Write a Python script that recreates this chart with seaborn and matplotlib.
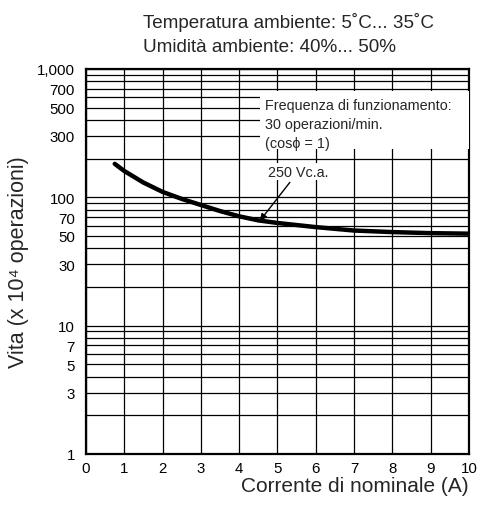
import numpy as np
import pandas as pd
import matplotlib
matplotlib.use("Agg")
import matplotlib.pyplot as plt
import seaborn as sns
from matplotlib.patches import Rectangle
from matplotlib.ticker import FixedLocator, FixedFormatter, LogLocator, NullFormatter

# ─────────────────────────────────────────────
# Data
# ─────────────────────────────────────────────
current_a = [0.75, 1.0, 1.5, 2.0, 2.5, 3.0, 3.5, 4.0, 4.5, 5.0, 6.0, 7.0, 8.0, 9.0, 10.0]
life_1e4 = [182, 160, 130, 110, 97, 87, 78, 71, 66, 63, 58.5, 55, 53.5, 52.5, 52]

y_ticks = [1, 3, 5, 7, 10, 30, 50, 70, 100, 300, 500, 700, 1000]
y_labels = ["1", "3", "5", "7", "10", "30", "50", "70", "100", "300", "500", "700", "1,000"]
x_ticks = list(range(0, 11))

title_lines = ["Temperatura ambiente: 5˚C... 35˚C", "Umidità ambiente: 40%... 50%"]
note_lines = "Frequenza di funzionamento:\n30 operazioni/min.\n(cosϕ = 1)"
curve_label = "250 Vc.a."

df = pd.DataFrame({"corrente": current_a, "vita": life_1e4})

# ─────────────────────────────────────────────
# Plot
# ─────────────────────────────────────────────
sns.set_theme(style="white")
plt.rcParams["font.family"] = ["Liberation Sans", "DejaVu Sans"]

fig = plt.figure(figsize=(4.78, 5.10), dpi=100)
ax = fig.add_axes([0.180, 0.108, 0.801, 0.755])

sns.lineplot(data=df, x="corrente", y="vita", color="black", linewidth=3.2, ax=ax, zorder=4)

ax.set_yscale("log")
ax.set_xlim(0, 10)
ax.set_ylim(1, 1000)

ax.yaxis.set_major_locator(FixedLocator(y_ticks))
ax.yaxis.set_major_formatter(FixedFormatter(y_labels))
ax.yaxis.set_minor_locator(LogLocator(base=10, subs=np.arange(1, 10)))
ax.yaxis.set_minor_formatter(NullFormatter())
ax.set_xticks(x_ticks)

ax.grid(True, which="both", axis="y", color="black", linewidth=0.9)
ax.grid(True, which="major", axis="x", color="black", linewidth=0.9)
ax.tick_params(axis="y", which="both", length=0, labelsize=10.8, colors="black", pad=8)
ax.tick_params(axis="x", which="both", length=0, labelsize=10.8, colors="black", pad=5)
for side in ax.spines.values():
    side.set_color("black")
    side.set_linewidth(1.6)

ax.set_xlabel("Corrente di nominale (A)", fontsize=15, loc="right", labelpad=1)
ax.set_ylabel("Vita (x 10⁴ operazioni)", fontsize=15.5, labelpad=6)

fig.text(0.299, 0.955, title_lines[0], fontsize=13.6, va="center", ha="left")
fig.text(0.299, 0.906, title_lines[1], fontsize=13.6, va="center", ha="left")

# white panel behind the note, hiding the grid
ax.add_patch(Rectangle((4.55, 238), 5.45, 676 - 238, facecolor="white", edgecolor="none", zorder=3))
ax.text(4.67, 373, note_lines, fontsize=10.4, va="center", ha="left", linespacing=1.45, zorder=5)
ax.annotate(curve_label, xy=(4.54, 65.5), xytext=(4.75, 158), fontsize=10.4, ha="left", va="center",
            zorder=5, bbox=dict(facecolor="white", edgecolor="none", pad=1),
            arrowprops=dict(arrowstyle="-|>", color="black", lw=1.0, mutation_scale=10,
                            shrinkA=2, shrinkB=0))

fig.savefig("out.png", dpi=100)
